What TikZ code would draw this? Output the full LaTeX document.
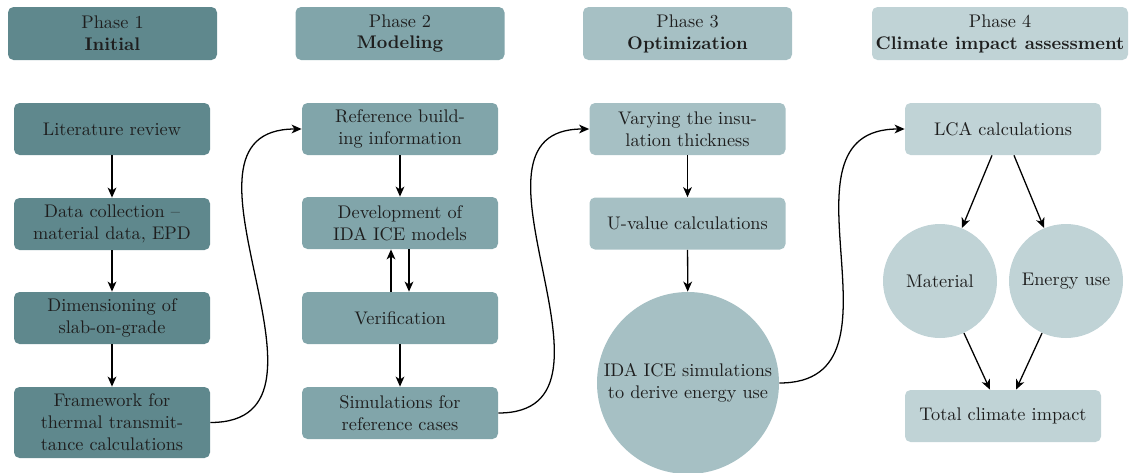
\documentclass[tikz,border=0pt]{standalone}
\usetikzlibrary{arrows.meta}
\newlength{\pxu}\setlength{\pxu}{0.547pt}
\definecolor{cA}{RGB}{95,136,141}
\definecolor{cB}{RGB}{129,165,170}
\definecolor{cC}{RGB}{166,192,196}
\definecolor{cD}{RGB}{192,211,214}
\definecolor{txt}{RGB}{30,30,30}
\begin{document}
\begin{tikzpicture}[x=\pxu,y=-\pxu, every node/.style={text=txt},
  box/.style={fill=#1, rounded corners=3pt, minimum width=196*\pxu, minimum height=52*\pxu, align=center, inner sep=2pt},
  hdr/.style={fill=#1, rounded corners=3pt, minimum width=209*\pxu, minimum height=53*\pxu, align=center, inner sep=2pt},
  circ/.style={fill=#1, circle, align=center, inner sep=0pt},
  arr/.style={-{Stealth[length=5.5pt,width=4.8pt,inset=1.6pt]}, line width=0.7pt}]
\useasboundingbox (0,0) rectangle (1134,472);

% headers
\node[hdr=cA] (h1) at (112.5,33.5) {Phase 1\\\textbf{Initial}};
\node[hdr=cB] (h2) at (400,33.5) {Phase 2\\\textbf{Modeling}};
\node[hdr=cC] (h3) at (687.5,33.5) {Phase 3\\\textbf{Optimization}};
\node[hdr=cD, minimum width=256*\pxu] (h4) at (1000,33.5) {Phase 4\\\textbf{Climate impact assessment}};

% column 1
\node[box=cA] (lit) at (112,129) {Literature review};
\node[box=cA] (dat) at (112,224) {Data collection --\\material data, EPD};
\node[box=cA] (dim) at (112,318) {Dimensioning of\\slab-on-grade};
\node[box=cA, minimum height=71*\pxu] (fra) at (112,422.5) {Framework for\\thermal transmit-\\tance calculations};

% column 2
\node[box=cB] (ref) at (400,129) {Reference build-\\ing information};
\node[box=cB] (dev) at (400,223) {Development of\\IDA ICE models};
\node[box=cB] (ver) at (400,318) {Verification};
\node[box=cB] (sim) at (400,413) {Simulations for\\reference cases};

% column 3
\node[box=cC] (var) at (687.5,129) {Varying the insu-\\lation thickness};
\node[box=cC] (uva) at (687.5,223.5) {U-value calculations};
\node[circ=cC, minimum size=182*\pxu] (ida) at (688,383) {IDA ICE simulations\\to derive energy use};

% column 4
\node[box=cD] (lca) at (1003,129) {LCA calculations};
\node[circ=cD, minimum size=114*\pxu] (mat) at (940,281) {Material};
\node[circ=cD, minimum size=114*\pxu] (ene) at (1066,281) {Energy use};
\node[box=cD] (tot) at (1003,416) {Total climate impact};

% arrows column 1
\draw[arr] (lit) -- (dat);
\draw[arr] (dat) -- (dim);
\draw[arr] (dim) -- (fra);
% arrows column 2
\draw[arr] (ref) -- (dev);
\draw[arr] ([xshift=-9*\pxu]ver.north) -- ([xshift=-9*\pxu]dev.south);
\draw[arr] ([xshift=9*\pxu]dev.south) -- ([xshift=9*\pxu]ver.north);
\draw[arr] (ver) -- (sim);
% arrows column 3
\draw[arr] (var) -- (uva);
\draw[arr] (uva) -- (ida);
% arrows column 4
\draw[arr] ([xshift=-11*\pxu]lca.south) -- (mat);
\draw[arr] ([xshift=11*\pxu]lca.south) -- (ene);
\draw[arr] (mat) -- ([xshift=-13*\pxu]tot.north);
\draw[arr] (ene) -- ([xshift=13*\pxu]tot.north);

% curved connectors
\draw[arr] (fra.east) .. controls +(150,0) and +(-150,0) .. (ref.west);
\draw[arr] (sim.east) .. controls +(145,0) and +(-145,0) .. (var.west);
\draw[arr] (ida.east) .. controls +(140,0) and +(-140,0) .. (lca.west);
\end{tikzpicture}
\end{document}
